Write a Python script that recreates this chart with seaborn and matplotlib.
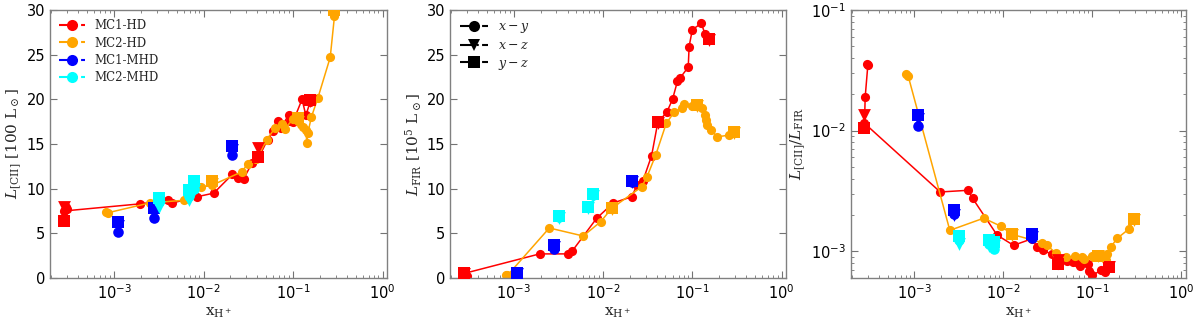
import numpy as np
import pandas as pd
import matplotlib
matplotlib.use('Agg')
import matplotlib.pyplot as plt
import seaborn as sns
from matplotlib.lines import Line2D
from matplotlib.ticker import LogLocator, NullFormatter

# region Datos MC1-HD (rojo) - proyección x-y, serie temporal
mc1hd_x = [2.9e-4, 3.0e-4, 2.8e-4, 2.75e-4, 1.95e-3, 4.0e-3, 4.5e-3, 8.5e-3, 1.3e-2, 2.1e-2, 2.4e-2, 2.8e-2,
           3.5e-2, 4.1e-2, 5.2e-2, 6.0e-2, 6.8e-2, 7.3e-2, 9.0e-2, 9.2e-2, 1.0e-1, 1.26e-1, 1.39e-1, 1.55e-1]
mc1hd_lcii = [7.9, 7.7, 7.6, 7.5, 8.3, 8.7, 8.4, 9.1, 9.5, 11.6, 11.2, 11.1,
              12.9, 13.4, 15.5, 16.4, 17.6, 16.8, 18.3, 17.6, 17.5, 20.0, 18.2, 19.7]
mc1hd_lfir = [0.2, 0.2, 0.4, 0.5, 2.7, 2.7, 3.0, 6.7, 8.4, 9.1, 10.4, 10.9,
              13.7, 17.4, 18.6, 20.0, 22.0, 22.4, 23.6, 25.9, 27.8, 28.5, 27.3, 26.7]
mc1hd_ratio = [0.036, 0.035, 0.019, 0.0115, 3.1e-3, 3.2e-3, 2.75e-3, 1.36e-3, 1.12e-3, 1.27e-3, 1.08e-3, 1.02e-3,
               0.94e-3, 0.77e-3, 0.83e-3, 0.82e-3, 0.80e-3, 0.75e-3, 0.78e-3, 0.68e-3, 0.63e-3, 0.70e-3, 0.67e-3, 0.74e-3]
# proyecciones x-z y y-z
mc1hd_proj_x = [2.75e-4, 4.1e-2, 1.55e-1]
mc1hd_xz_lcii = [7.9, 14.6, 19.8]
mc1hd_yz_lcii = [6.4, 13.6, 19.9]
mc1hd_xz_lfir = [0.4, 17.3, 26.6]
mc1hd_yz_lfir = [0.6, 17.5, 26.8]
mc1hd_xz_ratio = [0.0135, 8.4e-4, 7.4e-4]
mc1hd_yz_ratio = [0.0105, 7.9e-4, 7.4e-4]
# endregion

# region Datos MC2-HD (naranja)
mc2hd_x = [8.1e-4, 8.5e-4, 2.5e-3, 6.0e-3, 9.4e-3, 1.25e-2, 2.7e-2, 3.1e-2, 3.9e-2, 5.1e-2, 6.3e-2, 7.6e-2,
           8.1e-2, 1.0e-1, 1.14e-1, 1.28e-1, 1.38e-1, 1.43e-1, 1.46e-1, 1.6e-1, 1.9e-1, 2.6e-1, 2.9e-1]
mc2hd_lcii = [7.4, 7.3, 8.4, 8.7, 10.2, 10.4, 11.9, 12.8, 13.3, 15.5, 16.8, 17.2,
              16.7, 17.8, 17.6, 16.9, 16.6, 15.1, 16.2, 18.0, 20.2, 24.7, 29.3]
mc2hd_lfir = [0.3, 0.3, 5.6, 4.7, 6.3, 7.8, 10.2, 11.3, 13.8, 17.3, 18.6, 19.0,
              19.5, 19.3, 19.4, 19.0, 18.3, 17.7, 17.1, 16.6, 15.8, 16.0, 16.3]
mc2hd_ratio = [0.0294, 0.0285, 1.49e-3, 1.88e-3, 1.61e-3, 1.38e-3, 1.18e-3, 1.12e-3, 0.96e-3, 0.89e-3, 0.91e-3, 0.90e-3,
               0.86e-3, 0.92e-3, 0.91e-3, 0.89e-3, 0.91e-3, 0.85e-3, 0.95e-3, 1.08e-3, 1.28e-3, 1.54e-3, 1.80e-3]
mc2hd_proj_x = [1.25e-2, 1.14e-1, 2.9e-1]
mc2hd_xz_lcii = [10.5, 17.5, 29.5]
mc2hd_yz_lcii = [10.9, 17.9, 30.0]
mc2hd_xz_lfir = [7.7, 19.2, 16.2]
mc2hd_yz_lfir = [7.8, 19.4, 16.3]
mc2hd_xz_ratio = [1.36e-3, 0.91e-3, 1.83e-3]
mc2hd_yz_ratio = [1.40e-3, 0.92e-3, 1.86e-3]
# endregion

# region Datos MC1-MHD (azul) y MC2-MHD (cian), solo marcadores
mc1mhd_x = [1.1e-3, 2.8e-3, 2.1e-2]
mc1mhd_xy_lcii = [5.2, 6.7, 13.8]
mc1mhd_xz_lcii = [5.8, 7.3, 14.3]
mc1mhd_yz_lcii = [6.3, 7.8, 14.8]
mc1mhd_xy_lfir = [0.3, 3.2, 10.7]
mc1mhd_xz_lfir = [0.4, 3.5, 10.8]
mc1mhd_yz_lfir = [0.55, 3.7, 10.9]
mc1mhd_xy_ratio = [1.1e-2, 2.05e-3, 1.30e-3]
mc1mhd_xz_ratio = [1.25e-2, 1.98e-3, 1.32e-3]
mc1mhd_yz_ratio = [1.35e-2, 2.2e-3, 1.38e-3]

mc2mhd_x = [3.2e-3, 6.8e-3, 7.8e-3]
mc2mhd_xy_lcii = [8.5, 9.2, 10.0]
mc2mhd_xz_lcii = [8.0, 8.7, 9.8]
mc2mhd_yz_lcii = [9.0, 9.9, 10.9]
mc2mhd_xy_lfir = [6.8, 7.9, 9.3]
mc2mhd_xz_lfir = [6.7, 7.8, 9.2]
mc2mhd_yz_lfir = [6.9, 8.0, 9.4]
mc2mhd_xy_ratio = [1.25e-3, 1.15e-3, 1.05e-3]
mc2mhd_xz_ratio = [1.15e-3, 1.10e-3, 1.10e-3]
mc2mhd_yz_ratio = [1.35e-3, 1.25e-3, 1.20e-3]
# endregion

# region Estilo
sns.set_style('ticks')
plt.rcParams['font.family'] = ['DejaVu Sans']
plt.rcParams['xtick.direction'] = 'in'
plt.rcParams['ytick.direction'] = 'in'
plt.rcParams['xtick.top'] = True
plt.rcParams['ytick.right'] = True
plt.rcParams['xtick.color'] = '0.45'
plt.rcParams['ytick.color'] = '0.45'
plt.rcParams['xtick.labelcolor'] = 'black'
plt.rcParams['ytick.labelcolor'] = 'black'
plt.rcParams['axes.edgecolor'] = '0.5'
plt.rcParams['xtick.labelsize'] = 10.5
plt.rcParams['ytick.labelsize'] = 10.5

RED, ORANGE, BLUE, CYAN = '#ff0000', '#ffa500', '#0000ff', '#00ffff'
serif = dict(family='DejaVu Serif', math_fontfamily='dejavuserif', fontsize=11)
# endregion

fig = plt.figure(figsize=(12, 3.22), dpi=100)
axes = [fig.add_axes([0.0417, 0.1366, 0.2808, 0.8324]),
        fig.add_axes([0.375, 0.1366, 0.2800, 0.8324]),
        fig.add_axes([0.709, 0.1366, 0.2792, 0.8324])]


def linea(ax, x, y, color):
    df = pd.DataFrame({'x': x, 'y': y})
    sns.lineplot(data=df, x='x', y='y', ax=ax, sort=False, estimator=None, color=color,
                 lw=1.1, marker='o', ms=6.6, markeredgewidth=0, markeredgecolor=color, legend=False)


def puntos(ax, x, y, color, marker, size):
    df = pd.DataFrame({'x': x, 'y': y})
    sns.scatterplot(data=df, x='x', y='y', ax=ax, color=color, marker=marker, s=size,
                    linewidth=0, legend=False, zorder=3)


paneles = [
    (mc1hd_lcii, mc1hd_xz_lcii, mc1hd_yz_lcii, mc2hd_lcii, mc2hd_xz_lcii, mc2hd_yz_lcii,
     mc1mhd_xy_lcii, mc1mhd_xz_lcii, mc1mhd_yz_lcii, mc2mhd_xy_lcii, mc2mhd_xz_lcii, mc2mhd_yz_lcii),
    (mc1hd_lfir, mc1hd_xz_lfir, mc1hd_yz_lfir, mc2hd_lfir, mc2hd_xz_lfir, mc2hd_yz_lfir,
     mc1mhd_xy_lfir, mc1mhd_xz_lfir, mc1mhd_yz_lfir, mc2mhd_xy_lfir, mc2mhd_xz_lfir, mc2mhd_yz_lfir),
    (mc1hd_ratio, mc1hd_xz_ratio, mc1hd_yz_ratio, mc2hd_ratio, mc2hd_xz_ratio, mc2hd_yz_ratio,
     mc1mhd_xy_ratio, mc1mhd_xz_ratio, mc1mhd_yz_ratio, mc2mhd_xy_ratio, mc2mhd_xz_ratio, mc2mhd_yz_ratio),
]

for ax, p in zip(axes, paneles):
    linea(ax, mc1hd_x, p[0], RED)
    puntos(ax, mc1hd_proj_x, p[1], RED, 'v', 85)
    puntos(ax, mc1hd_proj_x, p[2], RED, 's', 75)
    linea(ax, mc2hd_x, p[3], ORANGE)
    puntos(ax, mc2hd_proj_x, p[4], ORANGE, 'v', 85)
    puntos(ax, mc2hd_proj_x, p[5], ORANGE, 's', 75)
    puntos(ax, mc1mhd_x, p[6], BLUE, 'o', 58)
    puntos(ax, mc1mhd_x, p[7], BLUE, 'v', 85)
    puntos(ax, mc1mhd_x, p[8], BLUE, 's', 75)
    puntos(ax, mc2mhd_x, p[9], CYAN, 'o', 58)
    puntos(ax, mc2mhd_x, p[10], CYAN, 'v', 85)
    puntos(ax, mc2mhd_x, p[11], CYAN, 's', 75)

    ax.set_xscale('log')
    ax.set_xlim(1.93e-4, 1.12)
    ax.xaxis.set_major_locator(LogLocator(base=10, numticks=10))
    ax.xaxis.set_minor_locator(LogLocator(base=10, subs=np.arange(2, 10), numticks=10))
    ax.xaxis.set_minor_formatter(NullFormatter())
    ax.tick_params(which='major', length=5, width=0.8)
    ax.tick_params(which='minor', length=2.5, width=0.6)
    ax.set_xlabel(r'$\mathrm{x_{H^+}}$', labelpad=3, **serif)
    for s in ax.spines.values():
        s.set_linewidth(1.0)

axes[0].set_ylim(0, 30)
axes[0].set_yticks([0, 5, 10, 15, 20, 25, 30])
axes[0].set_ylabel(r'$L_{\rm [CII]}$ [100 L$_\odot$]', labelpad=2, **serif)

axes[1].set_ylim(0, 30)
axes[1].set_yticks([0, 5, 10, 15, 20, 25, 30])
axes[1].set_ylabel(r'$L_{\rm FIR}$ [10$^5$ L$_\odot$]', labelpad=2, **serif)

axes[2].set_yscale('log')
axes[2].set_ylim(6.0e-4, 0.1)
axes[2].yaxis.set_minor_formatter(NullFormatter())
axes[2].set_ylabel(r'$L_{\rm [CII]}/L_{\rm FIR}$', labelpad=2, **serif)

# region Leyendas
h1 = [Line2D([0], [0], color=c, ls='-.', marker='o', ms=8, mew=0, lw=1.5) for c in [RED, ORANGE, BLUE, CYAN]]
leg1 = axes[0].legend(h1, ['MC1-HD', 'MC2-HD', 'MC1-MHD', 'MC2-MHD'], loc='upper left', frameon=False,
                      prop={'family': 'DejaVu Serif', 'size': 8.5}, handlelength=2.2, labelspacing=0.35,
                      borderaxespad=0.4)
h2 = [Line2D([0], [0], color='black', ls='-.', marker=m, ms=8, mew=0, lw=1.5) for m in ['o', 'v', 's']]
leg2 = axes[1].legend(h2, [r'$x-y$', r'$x-z$', r'$y-z$'], loc='upper left', frameon=False,
                      prop={'family': 'DejaVu Serif', 'size': 9}, handlelength=2.2, labelspacing=0.35,
                      borderaxespad=0.4)
for t in leg2.get_texts():
    t.set_math_fontfamily('dejavuserif')
# endregion

fig.savefig('out.png', dpi=100)
